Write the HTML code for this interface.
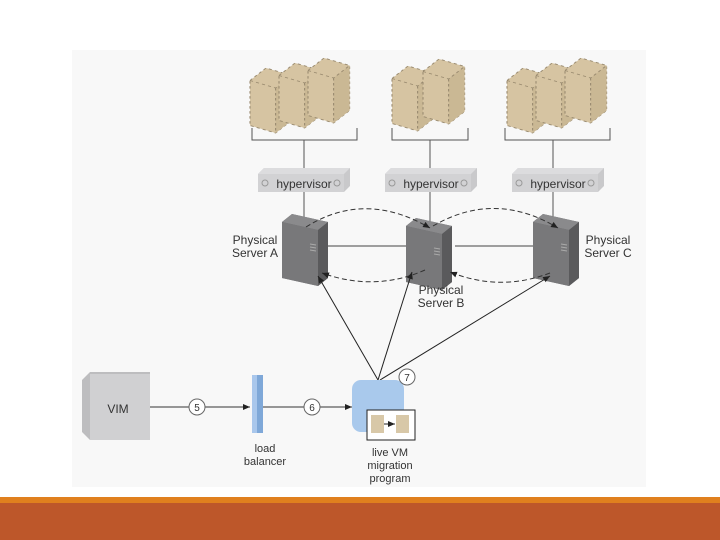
<!DOCTYPE html>
<html><head><style>
body{margin:0;width:720px;height:540px;background:#fff;overflow:hidden}
svg{display:block}
text{font-family:"Liberation Sans",sans-serif;fill:#333}
</style></head><body>
<svg width="720" height="540" viewBox="0 0 720 540">
<defs>
<marker id="ar" markerWidth="8" markerHeight="8" refX="7" refY="4" orient="auto"><path d="M0,1 L7,4 L0,7 z" fill="#222"/></marker>
<g id="vm">
<path d="M0,10 L10,0 L26,6 L26,42 L16,52 L0,46 z" fill="#d6c4a2" stroke="#9a8b70" stroke-dasharray="2,2" stroke-width="0.7"/>
<path d="M16,16 L26,6 L26,42 L16,52 z" fill="#cab894"/>
<path d="M0,10 L16,16 L26,6 M16,16 L16,52" fill="none" stroke="#9a8b70" stroke-dasharray="2,2" stroke-width="0.7"/>
</g>
<g id="srv">
<path d="M0,8 L10,0 L46,8 L46,64 L36,72 L0,64 z" fill="#6e6e70"/>
<path d="M0,8 L36,16 L46,8 L10,0 z" fill="#8a8a8c"/>
<path d="M36,16 L46,8 L46,64 L36,72 z" fill="#5a5a5c"/>
<path d="M0,8 L36,16 L36,72 L0,64 z" fill="#78787a"/>
<path d="M28,30 L34,31 M28,33 L34,34 M28,36 L34,37" stroke="#aaa"/>
</g>
<g id="hv">
<path d="M0,6 L6,0 L92,0 L92,18 L86,24 L0,24 z" fill="#c9c9cb"/>
<path d="M0,6 L86,6 L92,0 L6,0 z" fill="#dcdcde"/>
<rect x="0" y="6" width="86" height="18" fill="#d2d2d4"/>
<circle cx="7" cy="15" r="3" fill="none" stroke="#999"/>
<circle cx="79" cy="15" r="3" fill="none" stroke="#999"/>
</g>
</defs>
<rect x="72" y="50" width="574" height="437" fill="#f8f8f8"/>
<g transform="translate(250,68) scale(1.6,1.25)"><use href="#vm"/></g>
<g transform="translate(279,63) scale(1.6,1.25)"><use href="#vm"/></g>
<g transform="translate(308,58) scale(1.6,1.25)"><use href="#vm"/></g>
<g transform="translate(392,66) scale(1.6,1.25)"><use href="#vm"/></g>
<g transform="translate(423,59) scale(1.6,1.25)"><use href="#vm"/></g>
<g transform="translate(507,68) scale(1.6,1.25)"><use href="#vm"/></g>
<g transform="translate(536,63) scale(1.6,1.25)"><use href="#vm"/></g>
<g transform="translate(565,58) scale(1.6,1.25)"><use href="#vm"/></g>
<g stroke="#555" fill="none" stroke-width="1">
<path d="M252,128 V140 H357 V128 M304,140 V168"/>
<path d="M392,128 V140 H468 V128 M430,140 V168"/>
<path d="M505,128 V140 H610 V128 M553,140 V168"/>
<path d="M304,192 V220 M430,192 V224 M553,192 V220"/>
</g>
<use href="#hv" x="258" y="168"/><text x="304" y="188" font-size="12" text-anchor="middle" fill="#222">hypervisor</text>
<use href="#hv" x="385" y="168"/><text x="431" y="188" font-size="12" text-anchor="middle" fill="#222">hypervisor</text>
<use href="#hv" x="512" y="168"/><text x="558" y="188" font-size="12" text-anchor="middle" fill="#222">hypervisor</text>
<path d="M325,246 H420 M455,246 H548" stroke="#444"/>
<use href="#srv" x="282" y="214"/>
<use href="#srv" x="406" y="218"/>
<use href="#srv" x="533" y="214"/>
<g stroke="#333" fill="none" stroke-dasharray="5,3" stroke-width="1">
<path d="M306,227 Q365,190 430,228" marker-end="url(#ar)"/>
<path d="M433,226 Q495,190 558,228" marker-end="url(#ar)"/>
<path d="M425,270 Q375,292 322,273" marker-end="url(#ar)"/>
<path d="M550,273 Q500,292 450,272" marker-end="url(#ar)"/>
</g>
<g stroke="#222" stroke-width="1">
<path d="M378,380 L318,276" marker-end="url(#ar)"/>
<path d="M378,380 L412,272" marker-end="url(#ar)"/>
<path d="M380,380 L550,276" marker-end="url(#ar)"/>
</g>
<text x="255" y="244" font-size="12" text-anchor="middle">Physical</text>
<text x="255" y="257" font-size="12" text-anchor="middle">Server A</text>
<text x="441" y="294" font-size="12" text-anchor="middle">Physical</text>
<text x="441" y="307" font-size="12" text-anchor="middle">Server B</text>
<text x="608" y="244" font-size="12" text-anchor="middle">Physical</text>
<text x="608" y="257" font-size="12" text-anchor="middle">Server C</text>
<path d="M82,380 L90,372 L150,372 L150,440 L90,440 L82,432 z" fill="#bdbdbf"/>
<rect x="90" y="374" width="60" height="66" fill="#d0d0d2"/>
<text x="118" y="413" font-size="12" text-anchor="middle" fill="#222">VIM</text>
<path d="M150,407 H250" stroke="#333" marker-end="url(#ar)"/>
<circle cx="197" cy="407" r="8" fill="#fff" stroke="#666"/><text x="197" y="411" font-size="10" text-anchor="middle">5</text>
<rect x="252" y="375" width="11" height="58" fill="#7fa8d8"/>
<rect x="252" y="375" width="5" height="58" fill="#a9c7ec"/>
<text x="265" y="452" font-size="11" text-anchor="middle">load</text>
<text x="265" y="465" font-size="11" text-anchor="middle">balancer</text>
<path d="M263,407 H352" stroke="#333" marker-end="url(#ar)"/>
<circle cx="312" cy="407" r="8" fill="#fff" stroke="#666"/><text x="312" y="411" font-size="10" text-anchor="middle">6</text>
<rect x="352" y="380" width="52" height="52" rx="9" fill="#a9c9ec"/>
<circle cx="407" cy="377" r="8" fill="#fff" stroke="#666"/><text x="407" y="381" font-size="10" text-anchor="middle">7</text>
<rect x="367" y="410" width="48" height="30" fill="#fff" stroke="#222"/>
<rect x="371" y="415" width="13" height="18" fill="#d8c8a8"/>
<rect x="396" y="415" width="13" height="18" fill="#d8c8a8"/>
<path d="M384,424 H395" stroke="#222" marker-end="url(#ar)"/>
<text x="390" y="456" font-size="11" text-anchor="middle">live VM</text>
<text x="390" y="469" font-size="11" text-anchor="middle">migration</text>
<text x="390" y="482" font-size="11" text-anchor="middle">program</text>
<rect x="0" y="497" width="720" height="6" fill="#e0801e"/>
<rect x="0" y="503" width="720" height="37" fill="#bd572a"/>
</svg>
</body></html>
